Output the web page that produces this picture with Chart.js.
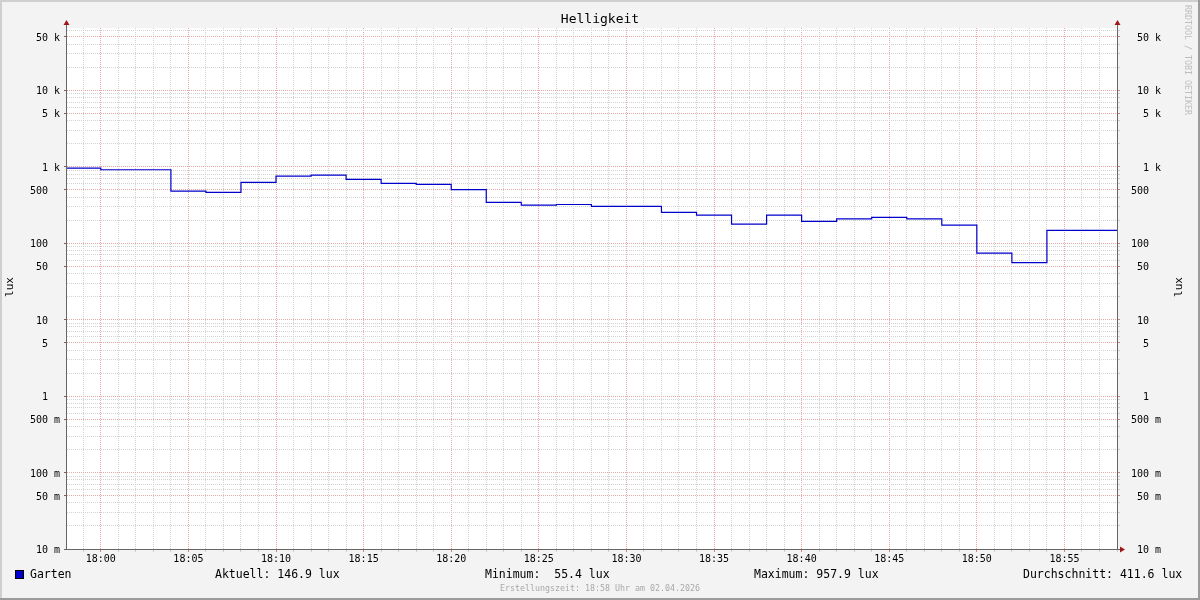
<!DOCTYPE html>
<html>
<head>
<meta charset="utf-8">
<script src="https://cdn.jsdelivr.net/npm/chart.js@4.4.1/dist/chart.umd.min.js"></script>
<style>
  html, body { margin: 0; padding: 0; background: #f3f3f3; }
  #chart { display: block; }
</style>
</head>
<body>
<canvas id="chart" width="1200" height="600"></canvas>
<script>
// Messwerte: Start jedes 2-Minuten-Intervalls (Minuten relativ zu 18:00) und Helligkeit in lux
const stepMinutes = [-2, 0, 2, 4, 6, 8, 10, 12, 14, 16, 18, 20, 22, 24, 26, 28, 30, 32, 34, 36, 38, 40, 42, 44, 46, 48, 50, 52, 54, 56, 58];
const luxValues = [957.9, 910, 910, 479, 460, 621, 751, 774, 680, 603, 585, 500, 341, 314, 320, 302, 302, 252, 232, 177, 232, 192, 208, 217, 208, 172, 74, 55.4, 146.9, 146.9, 146.9];

const xTickMinutes = [0, 5, 10, 15, 20, 25, 30, 35, 40, 45, 50, 55];
const xTickLabels = ['18:00', '18:05', '18:10', '18:15', '18:20', '18:25', '18:30', '18:35', '18:40', '18:45', '18:50', '18:55'];

const yTickValues = [0.01, 0.05, 0.1, 0.5, 1, 5, 10, 50, 100, 500, 1000, 5000, 10000, 50000];
const yTickLabels = ['10 m', '50 m', '100 m', '500 m', '1  ', '5  ', '10  ', '50  ', '100  ', '500  ', '1 k', '5 k', '10 k', '50 k'];

const seriesName = 'Garten';
const statNames = ['Aktuell:', 'Minimum:', 'Maximum:', 'Durchschnitt:'];
const statValues = [146.9, 55.4, 957.9, 411.6];
const statX = [215, 485, 754, 1023];

const MONO = '"DejaVu Sans Mono", monospace';
const majorGrid = '#e8a8a8';
const minorGrid = '#d2d2d2';

function isMajorLog(v) {
    const m = Math.round(v / Math.pow(10, Math.floor(Math.log10(v) + 1e-9)));
    return m === 1 || m === 5;
}

// Gitterlinien bei 1..9 je Dekade
function logGridTicks(scale) {
    const ticks = [];
    for (let e = -2; e <= 4; e++) {
        for (let m = 1; m <= 9; m++) {
            const v = m * Math.pow(10, e);
            if (v >= scale.min && v <= scale.max) ticks.push({ value: v });
        }
    }
    scale.ticks = ticks;
}

function yLabel(value) {
    const i = yTickValues.findIndex(t => Math.abs(t - value) / t < 1e-6);
    return i >= 0 ? yTickLabels[i] : '';
}

const rrdFrame = {
    id: 'rrdFrame',
    beforeDraw(chart) {
        const c = chart.ctx;
        const a = chart.chartArea;
        c.save();
        c.fillStyle = '#f3f3f3';
        c.fillRect(0, 0, chart.width, chart.height);
        c.fillStyle = '#ffffff';
        c.fillRect(a.left, a.top, a.right - a.left, a.bottom - a.top);
        // Rahmen
        c.fillStyle = '#cfcfcf';
        c.fillRect(0, 0, chart.width, 2);
        c.fillRect(0, 0, 2, chart.height);
        c.fillStyle = '#9b9b9b';
        c.fillRect(0, chart.height - 2, chart.width, 2);
        c.fillRect(chart.width - 2, 0, 2, chart.height);
        c.restore();
    },
    afterDraw(chart) {
        const c = chart.ctx;
        const a = chart.chartArea;
        c.save();
        // Achsen
        c.strokeStyle = '#666666';
        c.lineWidth = 1;
        c.beginPath();
        c.moveTo(a.left - 0.5, a.top - 4);
        c.lineTo(a.left - 0.5, a.bottom + 0.5);
        c.moveTo(a.right + 0.5, a.top - 4);
        c.lineTo(a.right + 0.5, a.bottom + 0.5);
        c.moveTo(a.left - 3, a.bottom + 0.5);
        c.lineTo(a.right + 3, a.bottom + 0.5);
        c.stroke();
        // Pfeile
        c.fillStyle = '#a01818';
        [a.left - 0.5, a.right + 0.5].forEach(x => {
            c.beginPath();
            c.moveTo(x, a.top - 8);
            c.lineTo(x - 3, a.top - 3);
            c.lineTo(x + 3, a.top - 3);
            c.closePath();
            c.fill();
        });
        c.beginPath();
        c.moveTo(a.right + 8, a.bottom + 0.5);
        c.lineTo(a.right + 3, a.bottom - 2.5);
        c.lineTo(a.right + 3, a.bottom + 3.5);
        c.closePath();
        c.fill();

        // Titel
        c.fillStyle = '#000';
        c.textBaseline = 'middle';
        c.textAlign = 'center';
        c.font = '13px ' + MONO;
        c.fillText('Helligkeit', 600, 20);

        // Achsentitel
        c.font = '11px ' + MONO;
        [10, 1179].forEach(x => {
            c.save();
            c.translate(x, 287);
            c.rotate(-Math.PI / 2);
            c.fillText('lux', 0, 0);
            c.restore();
        });

        // Wasserzeichen
        c.save();
        c.fillStyle = '#bdbdbd';
        c.font = '8.3px ' + MONO;
        c.textAlign = 'left';
        c.translate(1187, 5);
        c.rotate(Math.PI / 2);
        c.fillText('RRDTOOL / TOBI OETIKER', 0, 0);
        c.restore();

        // Legende
        const ds = chart.data.datasets[0];
        c.fillStyle = ds.borderColor;
        c.fillRect(15, 570, 9, 9);
        c.strokeStyle = '#000';
        c.strokeRect(15.5, 570.5, 8, 8);
        c.fillStyle = '#000';
        c.textAlign = 'left';
        c.font = '11.5px ' + MONO;
        c.fillText(ds.label, 30, 575.5);
        statNames.forEach((n, i) => {
            c.fillText(n + ' ' + statValues[i].toFixed(1).padStart(5) + ' lux', statX[i], 575.5);
        });

        // Fusszeile
        c.textAlign = 'center';
        c.fillStyle = '#a8a8a8';
        c.font = '8.3px ' + MONO;
        c.fillText('Erstellungszeit: 18:58 Uhr am 02.04.2026', 600, 589);
        c.restore();
    }
};

const yGridColor = ctx => (ctx.tick && isMajorLog(ctx.tick.value)) ? majorGrid : minorGrid;

new Chart(document.getElementById('chart'), {
    type: 'line',
    data: {
        datasets: [{
            label: seriesName,
            data: stepMinutes.map((m, i) => ({ x: m, y: luxValues[i] })),
            stepped: 'before',
            borderColor: '#0000cc',
            borderWidth: 1.2,
            pointRadius: 0,
            fill: false
        }]
    },
    options: {
        responsive: false,
        animation: false,
        devicePixelRatio: 1,
        layout: { padding: { top: 28, right: 39, left: 0, bottom: 0 } },
        plugins: { legend: { display: false }, tooltip: { enabled: false } },
        scales: {
            x: {
                type: 'linear',
                min: -1.93,
                max: 58,
                afterBuildTicks(scale) {
                    const ticks = [];
                    for (let m = -1; m <= 58; m++) ticks.push({ value: m });
                    scale.ticks = ticks;
                },
                afterFit(scale) { scale.height = 51; },
                ticks: {
                    autoSkip: false,
                    maxRotation: 0,
                    padding: 1,
                    color: '#000',
                    font: { family: MONO, size: 10 },
                    callback(value) {
                        const i = xTickMinutes.indexOf(value);
                        return i >= 0 ? xTickLabels[i] : '';
                    }
                },
                grid: {
                    color: ctx => (ctx.tick && ctx.tick.value % 5 === 0) ? majorGrid : minorGrid,
                    tickColor: ctx => (ctx.tick && ctx.tick.value % 5 === 0) ? '#d98080' : '#cccccc',
                    tickLength: 3
                },
                border: { display: false, dash: [1, 1] }
            },
            y: {
                type: 'logarithmic',
                position: 'left',
                min: 0.01,
                max: 65000,
                afterBuildTicks: logGridTicks,
                afterFit(scale) { scale.width = 67; },
                ticks: {
                    autoSkip: false,
                    padding: 4,
                    labelOffset: 1.5,
                    color: '#000',
                    font: { family: MONO, size: 10 },
                    callback: yLabel
                },
                grid: {
                    color: yGridColor,
                    tickColor: ctx => (ctx.tick && isMajorLog(ctx.tick.value)) ? '#666666' : 'rgba(0,0,0,0)',
                    tickLength: 3
                },
                border: { display: false, dash: [1, 1] }
            },
            y2: {
                type: 'logarithmic',
                position: 'right',
                min: 0.01,
                max: 65000,
                afterBuildTicks: logGridTicks,
                afterFit(scale) { scale.width = 44; },
                ticks: {
                    autoSkip: false,
                    crossAlign: 'far',
                    labelOffset: 1.5,
                    color: '#000',
                    font: { family: MONO, size: 10 },
                    callback: yLabel
                },
                grid: {
                    drawOnChartArea: false,
                    tickColor: ctx => (ctx.tick && isMajorLog(ctx.tick.value)) ? '#d98080' : '#cccccc',
                    tickLength: 3
                },
                border: { display: false }
            }
        }
    },
    plugins: [rrdFrame]
});
</script>
</body>
</html>
